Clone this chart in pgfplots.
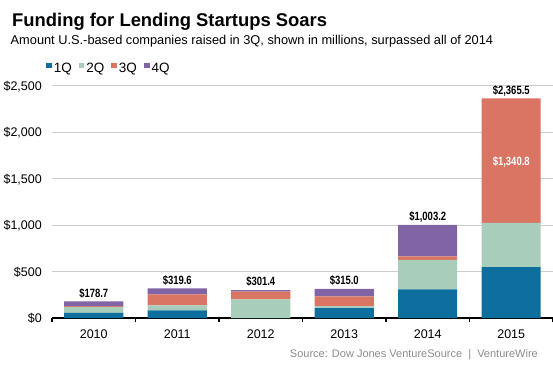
\documentclass[border=0pt]{standalone}
\usepackage{fontspec}
\setmainfont{Liberation Sans}
\newfontfamily\narrow[FakeStretch=0.79]{Liberation Sans}
\usepackage{pgfplots}
\pgfplotsset{compat=1.18}
\definecolor{qone}{RGB}{14,110,158}
\definecolor{qtwo}{RGB}{168,206,187}
\definecolor{qthree}{RGB}{218,116,99}
\definecolor{qfour}{RGB}{128,100,166}
\definecolor{gridgray}{RGB}{205,205,205}
\definecolor{srcgray}{RGB}{140,140,140}
\pgfplotsset{
  frame/.style={
    at={(52bp,51bp)}, anchor=south west,
    scale only axis, width=501bp, height=232bp,
    xmin=-0.5, xmax=5.5, ymin=0, ymax=2500,
    enlargelimits=false, clip=false,
  }
}
\begin{document}
\begin{tikzpicture}
\path[use as bounding box] (0,0) rectangle (553bp,369bp);
\node[anchor=base west, inner sep=0, font=\fontsize{18.4bp}{22bp}\selectfont\bfseries] at (12bp,342bp) {Funding for Lending Startups Soars};
\node[anchor=base west, inner sep=0, font=\fontsize{12.8bp}{15bp}\selectfont] at (10.5bp,324bp) {Amount U.S.-based companies raised in 3Q, shown in millions, surpassed all of 2014};
\node[anchor=base east, inner sep=0, text=srcgray, font=\fontsize{11bp}{13bp}\selectfont] at (538bp,12bp) {Source: Dow Jones VentureSource\ \ |\ \ VentureWire};
\begin{axis}[
  frame,
  ybar stacked, bar width=59bp,
  separate axis lines,
  axis x line*=bottom, axis y line*=left,
  y axis line style={draw=none},
  x axis line style={black, line width=1.5bp},
  xtick={0,1,2,3,4,5},
  xticklabels={2010,2011,2012,2013,2014,2015},
  minor xtick={-0.5,0.5,1.5,2.5,3.5,4.5,5.5},
  ytick={0,500,1000,1500,2000,2500},
  yticklabels={{\$0},{\$500},{\$1,000},{\$1,500},{\$2,000},{\$2,500}},
  tick align=outside,
  major tick length=0pt,
  minor tick length=4.5bp,
  minor tick style={black, line width=1.2bp},
  ytick style={draw=none},
  ymajorgrids,
  grid style={color=gridgray, line width=1bp},
  ticklabel style={font=\fontsize{12.5bp}{15bp}\selectfont},
  xticklabel style={anchor=base, inner sep=0pt, yshift=-20bp},
  yticklabel style={anchor=base east, inner sep=0pt, xshift=-10bp, yshift=-4.5bp},
  legend style={at={(0,1)}, anchor=south west, xshift=-6bp, yshift=10bp,
    draw=none, fill=none, inner sep=0pt,
    font=\fontsize{13.5bp}{16bp}\selectfont,
    /tikz/every even column/.append style={column sep=5bp}},
  legend columns=4,
  legend image code/.code={\fill[#1] (0bp,0bp) rectangle (5.6bp,5.6bp);},
]
\addplot[fill=qone, draw=none] coordinates {(0,55) (1,83) (2,0) (3,107) (4,308) (5,548.0)};
\addlegendentry{1Q}
\addplot[fill=qtwo, draw=none] coordinates {(0,65) (1,54) (2,200) (3,21) (4,319) (5,476.7)};
\addlegendentry{2Q}
\addplot[fill=qthree, draw=none] coordinates {(0,8) (1,118) (2,83) (3,104) (4,36) (5,1340.8)};
\addlegendentry{3Q}
\addplot[fill=qfour, draw=none] coordinates {(0,50.7) (1,64.6) (2,18.4) (3,83) (4,340.2) (5,0)};
\addlegendentry{4Q}
\end{axis}
\begin{axis}[frame, hide axis]
\addplot[draw=none, mark=none, point meta=explicit symbolic,
  nodes near coords,
  every node near coord/.style={anchor=base, inner sep=0pt, yshift=4.3bp, text=black,
    font=\narrow\fontsize{12bp}{14bp}\selectfont\bfseries}]
  coordinates {(0,178.7) [\$178.7] (1,319.6) [\$319.6] (2,301.4) [\$301.4] (3,315.0) [\$315.0] (4,1003.2) [\$1,003.2] (5,2365.5) [\$2,365.5]};
\addplot[draw=none, mark=none, point meta=explicit symbolic,
  nodes near coords,
  every node near coord/.style={anchor=base, inner sep=0pt, yshift=-4.5bp, text=white,
    font=\narrow\fontsize{12bp}{14bp}\selectfont\bfseries}]
  coordinates {(5,1695.1) [\$1,340.8]};
\end{axis}
\end{tikzpicture}
\end{document}
